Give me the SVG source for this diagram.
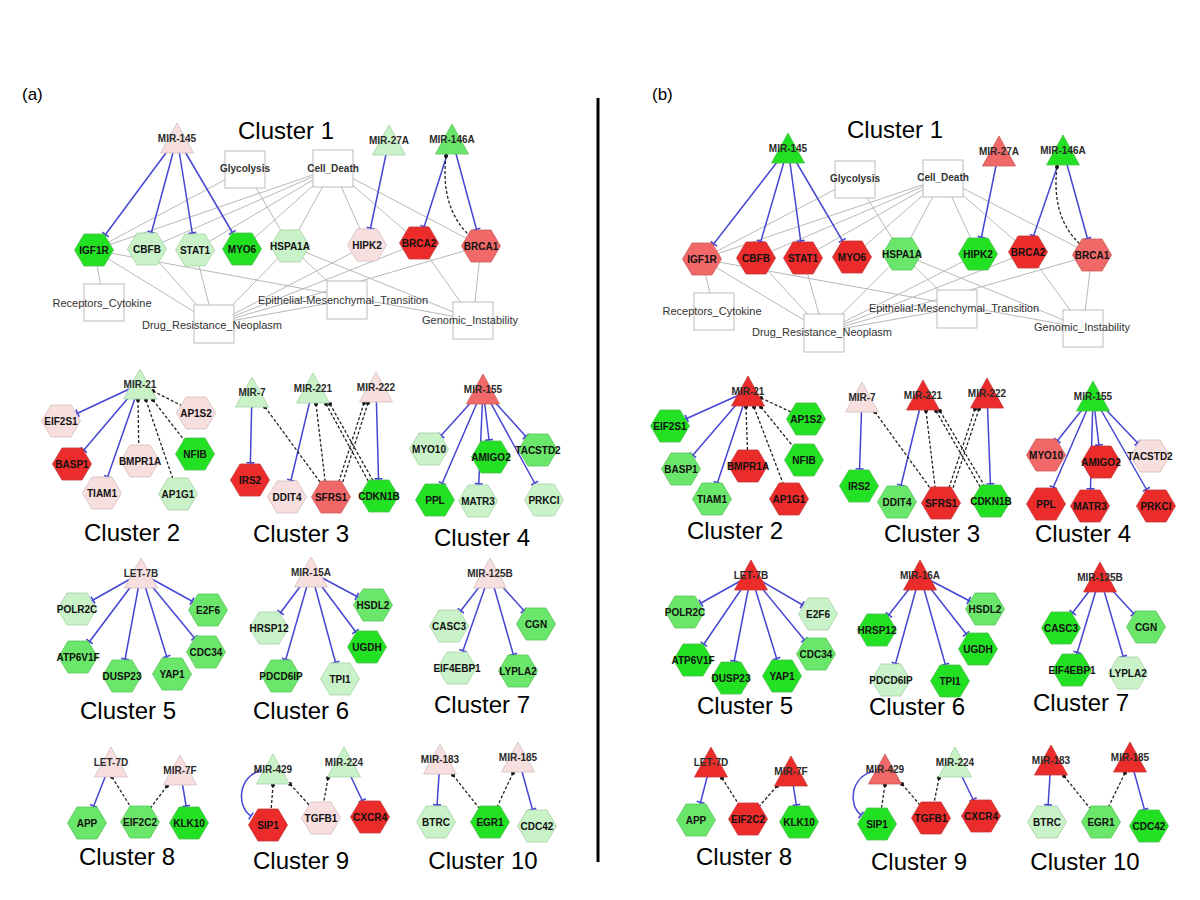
<svg xmlns="http://www.w3.org/2000/svg" xmlns:xlink="http://www.w3.org/1999/xlink" width="1200" height="900" viewBox="0 0 1200 900">
<style>
.g{stroke:#b8b8b8;stroke-width:1;fill:none}
.b{stroke:#4545d4;stroke-width:1.5;fill:none}
.d{stroke:#222;stroke-width:1.3;stroke-dasharray:3 2;fill:none;marker-start:url(#dot)}
.box{fill:#fff;stroke:#bbb;stroke-width:1}
.nl{font-family:"Liberation Sans",Arial,sans-serif;font-weight:bold;font-size:10px;text-anchor:middle;fill:#111}
.tl{font-family:"Liberation Sans",Arial,sans-serif;font-weight:bold;font-size:10px;text-anchor:middle;fill:#2a2a2a}
.bl{font-family:"Liberation Sans",Arial,sans-serif;font-size:11px;text-anchor:middle;fill:#333}
.bb{font-family:"Liberation Sans",Arial,sans-serif;font-weight:bold;font-size:10px;text-anchor:middle;fill:#333}
.ct{font-family:"Liberation Sans",Arial,sans-serif;font-size:24px;text-anchor:middle;fill:#000}
.pl{font-family:"Liberation Sans",Arial,sans-serif;font-size:17px;fill:#000}
.bg{fill:#22e022;stroke:#4cbf4c;stroke-width:0.8}
.mg{fill:#6ae66a;stroke:#5cc45c;stroke-width:0.8}
.lg{fill:#c9f2c9;stroke:#a6d2a6;stroke-width:0.8}
.pk{fill:#f7dfdf;stroke:#d4bcbc;stroke-width:0.8}
.rd{fill:#ec2b2b;stroke:#c53a3a;stroke-width:0.8}
.lr{fill:#f16868;stroke:#cc5a5a;stroke-width:0.8}
</style>
<defs>
<polygon id="hx" points="-19.5,0 -10,-16 10,-16 19.5,0 10,16 -10,16"/>
<polygon id="tr" points="0,-15 16.5,15 -16.5,15"/>
<marker id="t17" viewBox="-25 -6 50 12" markerWidth="50" markerHeight="12" refX="17.2" refY="0" orient="auto" markerUnits="userSpaceOnUse"><path d="M0,-4V4" stroke="#4545d4" stroke-width="1.6"/></marker>
<marker id="t18" viewBox="-25 -6 50 12" markerWidth="50" markerHeight="12" refX="18.3" refY="0" orient="auto" markerUnits="userSpaceOnUse"><path d="M0,-4V4" stroke="#4545d4" stroke-width="1.6"/></marker>
<marker id="t19" viewBox="-25 -6 50 12" markerWidth="50" markerHeight="12" refX="19.3" refY="0" orient="auto" markerUnits="userSpaceOnUse"><path d="M0,-4V4" stroke="#4545d4" stroke-width="1.6"/></marker>
<marker id="t0" viewBox="-25 -6 50 12" markerWidth="50" markerHeight="12" refX="0" refY="0" orient="auto" markerUnits="userSpaceOnUse"><path d="M0,-4V4" stroke="#4545d4" stroke-width="1.6"/></marker>
<marker id="dot" viewBox="-3 -3 6 6" markerWidth="6" markerHeight="6" refX="0" refY="0" markerUnits="userSpaceOnUse"><circle r="2" fill="#111"/></marker>
</defs>
<rect width="1200" height="900" fill="#fff"/>
<text x="22" y="100" class="pl">(a)</text>
<text x="652" y="100" class="pl">(b)</text>
<line x1="598" y1="98" x2="598" y2="862" stroke="#000" stroke-width="3"/>
<g id="titles">
<text x="286" y="139" class="ct">Cluster 1</text>
<text x="132" y="541" class="ct">Cluster 2</text>
<text x="301" y="542" class="ct">Cluster 3</text>
<text x="482" y="546" class="ct">Cluster 4</text>
<text x="128" y="719" class="ct">Cluster 5</text>
<text x="301" y="719" class="ct">Cluster 6</text>
<text x="482" y="713" class="ct">Cluster 7</text>
<text x="127" y="865" class="ct">Cluster 8</text>
<text x="301" y="869" class="ct">Cluster 9</text>
<text x="483" y="869" class="ct">Cluster 10</text>
<text x="895" y="138" class="ct">Cluster 1</text>
<text x="735" y="539" class="ct">Cluster 2</text>
<text x="932" y="542" class="ct">Cluster 3</text>
<text x="1083" y="542" class="ct">Cluster 4</text>
<text x="745" y="714" class="ct">Cluster 5</text>
<text x="917" y="715" class="ct">Cluster 6</text>
<text x="1081" y="711" class="ct">Cluster 7</text>
<text x="744" y="865" class="ct">Cluster 8</text>
<text x="919" y="870" class="ct">Cluster 9</text>
<text x="1085" y="870" class="ct">Cluster 10</text>
</g>
<g id="connectors">
<g class="g">
<line x1="245" y1="169" x2="94" y2="250"/><line x1="245" y1="169" x2="290" y2="246"/>
<line x1="333" y1="168" x2="94" y2="250"/><line x1="333" y1="168" x2="147" y2="249"/><line x1="333" y1="168" x2="195" y2="250"/><line x1="333" y1="168" x2="242" y2="249"/><line x1="333" y1="168" x2="290" y2="246"/><line x1="333" y1="168" x2="367" y2="245"/><line x1="333" y1="168" x2="419" y2="243"/><line x1="333" y1="168" x2="481" y2="246"/>
<line x1="94" y1="250" x2="104" y2="302"/><line x1="94" y1="250" x2="214" y2="324"/><line x1="94" y1="250" x2="473" y2="320"/>
<line x1="147" y1="249" x2="214" y2="324"/><line x1="195" y1="250" x2="214" y2="324"/><line x1="290" y1="246" x2="214" y2="324"/><line x1="367" y1="245" x2="214" y2="324"/><line x1="419" y1="243" x2="214" y2="324"/><line x1="481" y1="246" x2="214" y2="324"/>
<line x1="290" y1="246" x2="347" y2="300"/><line x1="290" y1="246" x2="473" y2="320"/><line x1="419" y1="243" x2="473" y2="320"/><line x1="481" y1="246" x2="473" y2="320"/><line x1="214" y1="324" x2="347" y2="300"/>
<line x1="855" y1="179" x2="702" y2="259"/><line x1="855" y1="179" x2="902" y2="254"/>
<line x1="943" y1="178" x2="702" y2="259"/><line x1="943" y1="178" x2="756" y2="258"/><line x1="943" y1="178" x2="803" y2="258"/><line x1="943" y1="178" x2="852" y2="257"/><line x1="943" y1="178" x2="902" y2="254"/><line x1="943" y1="178" x2="978" y2="254"/><line x1="943" y1="178" x2="1028" y2="252"/><line x1="943" y1="178" x2="1092" y2="255"/>
<line x1="702" y1="259" x2="714" y2="311"/><line x1="702" y1="259" x2="824" y2="332"/><line x1="702" y1="259" x2="1083" y2="328"/>
<line x1="756" y1="258" x2="824" y2="332"/><line x1="803" y1="258" x2="824" y2="332"/><line x1="902" y1="254" x2="824" y2="332"/><line x1="978" y1="254" x2="824" y2="332"/><line x1="1028" y1="252" x2="824" y2="332"/><line x1="1092" y1="255" x2="824" y2="332"/>
<line x1="902" y1="254" x2="957" y2="308"/><line x1="902" y1="254" x2="1083" y2="328"/><line x1="1028" y1="252" x2="1083" y2="328"/><line x1="1092" y1="255" x2="1083" y2="328"/><line x1="824" y1="332" x2="957" y2="308"/>
</g>
<g class="b">
<line x1="177" y1="138" x2="94" y2="250" marker-end="url(#t19)"/><line x1="177" y1="138" x2="147" y2="249" marker-end="url(#t17)"/><line x1="177" y1="138" x2="195" y2="250" marker-end="url(#t17)"/><line x1="177" y1="138" x2="242" y2="249" marker-end="url(#t19)"/>
<line x1="389" y1="140" x2="367" y2="245" marker-end="url(#t17)"/>
<line x1="452" y1="139" x2="419" y2="243" marker-end="url(#t17)"/><line x1="452" y1="139" x2="481" y2="246" marker-end="url(#t17)"/>
<line x1="140" y1="384" x2="61" y2="421" marker-end="url(#t18)"/><line x1="140" y1="384" x2="72" y2="464" marker-end="url(#t18)"/><line x1="140" y1="384" x2="102" y2="493" marker-end="url(#t17)"/>
<line x1="252" y1="392" x2="250" y2="480" marker-end="url(#t17)"/>
<line x1="313" y1="388" x2="287" y2="497" marker-end="url(#t17)"/>
<line x1="376" y1="387" x2="379" y2="496" marker-end="url(#t17)"/>
<line x1="483" y1="389" x2="429" y2="449" marker-end="url(#t18)"/><line x1="483" y1="389" x2="435" y2="500" marker-end="url(#t18)"/><line x1="483" y1="389" x2="491" y2="457" marker-end="url(#t17)"/><line x1="483" y1="389" x2="478" y2="501" marker-end="url(#t17)"/><line x1="483" y1="389" x2="538" y2="450" marker-end="url(#t18)"/><line x1="483" y1="389" x2="544" y2="500" marker-end="url(#t19)"/>
<line x1="141" y1="573" x2="77" y2="609" marker-end="url(#t18)"/><line x1="141" y1="573" x2="78" y2="657" marker-end="url(#t19)"/><line x1="141" y1="573" x2="122" y2="676" marker-end="url(#t17)"/><line x1="141" y1="573" x2="172" y2="674" marker-end="url(#t18)"/><line x1="141" y1="573" x2="206" y2="652" marker-end="url(#t18)"/><line x1="141" y1="573" x2="208" y2="610" marker-end="url(#t18)"/>
<line x1="311" y1="572" x2="269" y2="628" marker-end="url(#t19)"/><line x1="311" y1="572" x2="281" y2="676" marker-end="url(#t17)"/><line x1="311" y1="572" x2="340" y2="679" marker-end="url(#t17)"/><line x1="311" y1="572" x2="367" y2="647" marker-end="url(#t19)"/><line x1="311" y1="572" x2="373" y2="605" marker-end="url(#t18)"/>
<line x1="490" y1="573" x2="449" y2="626" marker-end="url(#t19)"/><line x1="490" y1="573" x2="457" y2="668" marker-end="url(#t18)"/><line x1="490" y1="573" x2="518" y2="671" marker-end="url(#t17)"/><line x1="490" y1="573" x2="536" y2="624" marker-end="url(#t18)"/>
<line x1="111" y1="762" x2="87" y2="823" marker-end="url(#t18)"/>
<line x1="180" y1="770" x2="189" y2="823" marker-end="url(#t17)"/>
<path d="M262,770 C238,776 236,806 251,816" marker-end="url(#t0)"/>
<line x1="344" y1="762" x2="370" y2="817" marker-end="url(#t18)"/>
<line x1="440" y1="759" x2="436" y2="822" marker-end="url(#t17)"/>
<line x1="518" y1="757" x2="537" y2="826" marker-end="url(#t17)"/>
<line x1="788" y1="148" x2="702" y2="259" marker-end="url(#t19)"/><line x1="788" y1="148" x2="756" y2="258" marker-end="url(#t17)"/><line x1="788" y1="148" x2="803" y2="258" marker-end="url(#t17)"/><line x1="788" y1="148" x2="852" y2="257" marker-end="url(#t19)"/>
<line x1="999" y1="151" x2="978" y2="254" marker-end="url(#t17)"/>
<line x1="1063" y1="150" x2="1028" y2="252" marker-end="url(#t17)"/><line x1="1063" y1="150" x2="1092" y2="255" marker-end="url(#t17)"/>
<line x1="748" y1="391" x2="670" y2="426" marker-end="url(#t18)"/><line x1="748" y1="391" x2="681" y2="469" marker-end="url(#t18)"/><line x1="748" y1="391" x2="712" y2="499" marker-end="url(#t17)"/>
<line x1="862" y1="397" x2="859" y2="486" marker-end="url(#t17)"/>
<line x1="923" y1="395" x2="897" y2="502" marker-end="url(#t17)"/>
<line x1="987" y1="393" x2="991" y2="501" marker-end="url(#t17)"/>
<line x1="1093" y1="396" x2="1046" y2="455" marker-end="url(#t18)"/><line x1="1093" y1="396" x2="1046" y2="504" marker-end="url(#t18)"/><line x1="1093" y1="396" x2="1101" y2="462" marker-end="url(#t17)"/><line x1="1093" y1="396" x2="1090" y2="506" marker-end="url(#t17)"/><line x1="1093" y1="396" x2="1150" y2="456" marker-end="url(#t18)"/><line x1="1093" y1="396" x2="1156" y2="506" marker-end="url(#t19)"/>
<line x1="751" y1="575" x2="685" y2="612" marker-end="url(#t18)"/><line x1="751" y1="575" x2="693" y2="660" marker-end="url(#t19)"/><line x1="751" y1="575" x2="731" y2="678" marker-end="url(#t17)"/><line x1="751" y1="575" x2="782" y2="676" marker-end="url(#t18)"/><line x1="751" y1="575" x2="816" y2="654" marker-end="url(#t18)"/><line x1="751" y1="575" x2="818" y2="614" marker-end="url(#t18)"/>
<line x1="920" y1="575" x2="877" y2="630" marker-end="url(#t19)"/><line x1="920" y1="575" x2="891" y2="680" marker-end="url(#t17)"/><line x1="920" y1="575" x2="950" y2="681" marker-end="url(#t17)"/><line x1="920" y1="575" x2="978" y2="649" marker-end="url(#t19)"/><line x1="920" y1="575" x2="985" y2="609" marker-end="url(#t18)"/>
<line x1="1100" y1="577" x2="1061" y2="628" marker-end="url(#t19)"/><line x1="1100" y1="577" x2="1072" y2="670" marker-end="url(#t18)"/><line x1="1100" y1="577" x2="1128" y2="673" marker-end="url(#t17)"/><line x1="1100" y1="577" x2="1146" y2="627" marker-end="url(#t18)"/>
<line x1="711" y1="762" x2="696" y2="820" marker-end="url(#t18)"/>
<line x1="791" y1="771" x2="799" y2="822" marker-end="url(#t17)"/>
<path d="M874,771 C850,777 848,805 861,815" marker-end="url(#t0)"/>
<line x1="955" y1="762" x2="981" y2="816" marker-end="url(#t18)"/>
<line x1="1051" y1="760" x2="1047" y2="822" marker-end="url(#t17)"/>
<line x1="1130" y1="757" x2="1149" y2="826" marker-end="url(#t17)"/>
</g>
<g class="d">
<path d="M446,156 Q440,208 470,236"/>
<line x1="138" y1="400" x2="139" y2="461"/><line x1="146" y1="400" x2="178" y2="494"/><line x1="153" y1="400" x2="195" y2="454"/><line x1="153" y1="391" x2="196" y2="413"/>
<line x1="265" y1="407" x2="331" y2="497"/>
<line x1="316" y1="404" x2="327" y2="497"/><line x1="326" y1="404" x2="377" y2="497"/><line x1="330" y1="404" x2="381" y2="495"/>
<line x1="364" y1="403" x2="334" y2="497"/><line x1="368" y1="403" x2="338" y2="497"/>
<line x1="112" y1="777" x2="140" y2="822"/><line x1="167" y1="786" x2="140" y2="822"/>
<line x1="273" y1="785" x2="270" y2="825"/><line x1="290" y1="784" x2="321" y2="818"/><line x1="328" y1="778" x2="321" y2="818"/>
<line x1="453" y1="775" x2="490" y2="822"/><line x1="513" y1="773" x2="490" y2="822"/>
<path d="M1057,167 Q1051,218 1081,245"/>
<line x1="746" y1="407" x2="748" y2="466"/><line x1="754" y1="407" x2="789" y2="499"/><line x1="761" y1="407" x2="804" y2="460"/><line x1="761" y1="398" x2="806" y2="419"/>
<line x1="875" y1="412" x2="941" y2="503"/>
<line x1="926" y1="411" x2="937" y2="503"/><line x1="936" y1="411" x2="989" y2="502"/><line x1="940" y1="411" x2="993" y2="500"/>
<line x1="975" y1="409" x2="944" y2="503"/><line x1="979" y1="409" x2="948" y2="503"/>
<line x1="722" y1="778" x2="748" y2="819"/><line x1="777" y1="786" x2="748" y2="819"/>
<line x1="885" y1="785" x2="879" y2="824"/><line x1="902" y1="784" x2="931" y2="818"/><line x1="939" y1="778" x2="931" y2="818"/>
<line x1="1064" y1="776" x2="1101" y2="822"/><line x1="1125" y1="773" x2="1101" y2="822"/>
</g>
</g>
<g id="a-Glycolysis"><rect x="225" y="151" width="40" height="37" class="box"/><text x="245" y="172" class="bb">Glycolysis</text></g>
<g id="a-Cell_Death"><rect x="313" y="150" width="40" height="37" class="box"/><text x="333" y="172" class="bb">Cell_Death</text></g>
<g id="a-Receptors_Cytokine"><rect x="84" y="284" width="40" height="37" class="box"/><text x="102" y="307" class="bl">Receptors_Cytokine</text></g>
<g id="a-Drug_Resistance_Neoplasm"><rect x="194" y="305" width="40" height="38" class="box"/><text x="212" y="329" class="bl">Drug_Resistance_Neoplasm</text></g>
<g id="a-Epithelial-Mesenchymal_Transition"><rect x="327" y="281" width="40" height="38" class="box"/><text x="343" y="304" class="bl">Epithelial-Mesenchymal_Transition</text></g>
<g id="a-Genomic_Instability"><rect x="453" y="302" width="40" height="37" class="box"/><text x="470" y="324" class="bl">Genomic_Instability</text></g>
<g id="b-Glycolysis"><rect x="835" y="161" width="40" height="37" class="box"/><text x="855" y="182" class="bb">Glycolysis</text></g>
<g id="b-Cell_Death"><rect x="923" y="160" width="40" height="37" class="box"/><text x="943" y="181" class="bb">Cell_Death</text></g>
<g id="b-Receptors_Cytokine"><rect x="694" y="293" width="40" height="37" class="box"/><text x="712" y="315" class="bl">Receptors_Cytokine</text></g>
<g id="b-Drug_Resistance_Neoplasm"><rect x="804" y="314" width="40" height="38" class="box"/><text x="822" y="336" class="bl">Drug_Resistance_Neoplasm</text></g>
<g id="b-Epithelial-Mesenchymal_Transition"><rect x="937" y="290" width="40" height="38" class="box"/><text x="954" y="312" class="bl">Epithelial-Mesenchymal_Transition</text></g>
<g id="b-Genomic_Instability"><rect x="1063" y="310" width="40" height="37" class="box"/><text x="1082" y="331" class="bl">Genomic_Instability</text></g>
<g id="a-MIR-145"><use href="#tr" x="177" y="138" class="pk"/><text x="177" y="141.5" class="tl">MIR-145</text></g>
<g id="a-MIR-27A"><use href="#tr" x="389" y="140" class="lg"/><text x="389" y="143.5" class="tl">MIR-27A</text></g>
<g id="a-MIR-146A"><use href="#tr" x="452" y="139" class="mg"/><text x="452" y="142.5" class="tl">MIR-146A</text></g>
<g id="a-MIR-21"><use href="#tr" x="140" y="384" class="lg"/><text x="140" y="387.5" class="tl">MIR-21</text></g>
<g id="a-MIR-7"><use href="#tr" x="252" y="392" class="lg"/><text x="252" y="395.5" class="tl">MIR-7</text></g>
<g id="a-MIR-221"><use href="#tr" x="313" y="388" class="lg"/><text x="313" y="391.5" class="tl">MIR-221</text></g>
<g id="a-MIR-222"><use href="#tr" x="376" y="387" class="pk"/><text x="376" y="390.5" class="tl">MIR-222</text></g>
<g id="a-MIR-155"><use href="#tr" x="483" y="389" class="lr"/><text x="483" y="392.5" class="tl">MIR-155</text></g>
<g id="a-LET-7B"><use href="#tr" x="141" y="573" class="pk"/><text x="141" y="576.5" class="tl">LET-7B</text></g>
<g id="a-MIR-15A"><use href="#tr" x="311" y="572" class="pk"/><text x="311" y="575.5" class="tl">MIR-15A</text></g>
<g id="a-MIR-125B"><use href="#tr" x="490" y="573" class="pk"/><text x="490" y="576.5" class="tl">MIR-125B</text></g>
<g id="a-LET-7D"><use href="#tr" x="111" y="762" class="pk"/><text x="111" y="765.5" class="tl">LET-7D</text></g>
<g id="a-MIR-7F"><use href="#tr" x="180" y="770" class="pk"/><text x="180" y="773.5" class="tl">MIR-7F</text></g>
<g id="a-MIR-429"><use href="#tr" x="273" y="769" class="lg"/><text x="273" y="772.5" class="tl">MIR-429</text></g>
<g id="a-MIR-224"><use href="#tr" x="344" y="762" class="lg"/><text x="344" y="765.5" class="tl">MIR-224</text></g>
<g id="a-MIR-183"><use href="#tr" x="440" y="759" class="pk"/><text x="440" y="762.5" class="tl">MIR-183</text></g>
<g id="a-MIR-185"><use href="#tr" x="518" y="757" class="pk"/><text x="518" y="760.5" class="tl">MIR-185</text></g>
<g id="a-IGF1R"><use href="#hx" x="94" y="250" class="bg"/><text x="94" y="253.5" class="nl">IGF1R</text></g>
<g id="a-CBFB"><use href="#hx" x="147" y="249" class="lg"/><text x="147" y="252.5" class="nl">CBFB</text></g>
<g id="a-STAT1"><use href="#hx" x="195" y="250" class="lg"/><text x="195" y="253.5" class="nl">STAT1</text></g>
<g id="a-MYO6"><use href="#hx" x="242" y="249" class="bg"/><text x="242" y="252.5" class="nl">MYO6</text></g>
<g id="a-HSPA1A"><use href="#hx" x="290" y="246" class="lg"/><text x="290" y="249.5" class="nl">HSPA1A</text></g>
<g id="a-HIPK2"><use href="#hx" x="367" y="245" class="pk"/><text x="367" y="248.5" class="nl">HIPK2</text></g>
<g id="a-BRCA2"><use href="#hx" x="419" y="243" class="rd"/><text x="419" y="246.5" class="nl">BRCA2</text></g>
<g id="a-BRCA1"><use href="#hx" x="481" y="246" class="lr"/><text x="481" y="249.5" class="nl">BRCA1</text></g>
<g id="a-EIF2S1"><use href="#hx" x="61" y="421" class="pk"/><text x="61" y="424.5" class="nl">EIF2S1</text></g>
<g id="a-AP1S2"><use href="#hx" x="196" y="413" class="pk"/><text x="196" y="416.5" class="nl">AP1S2</text></g>
<g id="a-BASP1"><use href="#hx" x="72" y="464" class="rd"/><text x="72" y="467.5" class="nl">BASP1</text></g>
<g id="a-BMPR1A"><use href="#hx" x="140" y="461" class="pk"/><text x="140" y="464.5" class="nl">BMPR1A</text></g>
<g id="a-NFIB"><use href="#hx" x="195" y="454" class="bg"/><text x="195" y="457.5" class="nl">NFIB</text></g>
<g id="a-TIAM1"><use href="#hx" x="102" y="493" class="pk"/><text x="102" y="496.5" class="nl">TIAM1</text></g>
<g id="a-AP1G1"><use href="#hx" x="178" y="494" class="lg"/><text x="178" y="497.5" class="nl">AP1G1</text></g>
<g id="a-IRS2"><use href="#hx" x="250" y="480" class="rd"/><text x="250" y="483.5" class="nl">IRS2</text></g>
<g id="a-DDIT4"><use href="#hx" x="287" y="497" class="pk"/><text x="287" y="500.5" class="nl">DDIT4</text></g>
<g id="a-SFRS1"><use href="#hx" x="331" y="497" class="lr"/><text x="331" y="500.5" class="nl">SFRS1</text></g>
<g id="a-CDKN1B"><use href="#hx" x="379" y="496" class="bg"/><text x="379" y="499.5" class="nl">CDKN1B</text></g>
<g id="a-MYO10"><use href="#hx" x="429" y="449" class="lg"/><text x="429" y="452.5" class="nl">MYO10</text></g>
<g id="a-AMIGO2"><use href="#hx" x="491" y="457" class="bg"/><text x="491" y="460.5" class="nl">AMIGO2</text></g>
<g id="a-TACSTD2"><use href="#hx" x="538" y="450" class="mg"/><text x="538" y="453.5" class="nl">TACSTD2</text></g>
<g id="a-PPL"><use href="#hx" x="435" y="500" class="bg"/><text x="435" y="503.5" class="nl">PPL</text></g>
<g id="a-MATR3"><use href="#hx" x="478" y="501" class="lg"/><text x="478" y="504.5" class="nl">MATR3</text></g>
<g id="a-PRKCI"><use href="#hx" x="544" y="500" class="lg"/><text x="544" y="503.5" class="nl">PRKCI</text></g>
<g id="a-POLR2C"><use href="#hx" x="77" y="609" class="lg"/><text x="77" y="612.5" class="nl">POLR2C</text></g>
<g id="a-E2F6"><use href="#hx" x="208" y="610" class="mg"/><text x="208" y="613.5" class="nl">E2F6</text></g>
<g id="a-ATP6V1F"><use href="#hx" x="78" y="657" class="mg"/><text x="78" y="660.5" class="nl">ATP6V1F</text></g>
<g id="a-DUSP23"><use href="#hx" x="122" y="676" class="mg"/><text x="122" y="679.5" class="nl">DUSP23</text></g>
<g id="a-YAP1"><use href="#hx" x="172" y="674" class="mg"/><text x="172" y="677.5" class="nl">YAP1</text></g>
<g id="a-CDC34"><use href="#hx" x="206" y="652" class="mg"/><text x="206" y="655.5" class="nl">CDC34</text></g>
<g id="a-HRSP12"><use href="#hx" x="269" y="628" class="lg"/><text x="269" y="631.5" class="nl">HRSP12</text></g>
<g id="a-HSDL2"><use href="#hx" x="373" y="605" class="mg"/><text x="373" y="608.5" class="nl">HSDL2</text></g>
<g id="a-UGDH"><use href="#hx" x="367" y="647" class="bg"/><text x="367" y="650.5" class="nl">UGDH</text></g>
<g id="a-PDCD6IP"><use href="#hx" x="281" y="676" class="mg"/><text x="281" y="679.5" class="nl">PDCD6IP</text></g>
<g id="a-TPI1"><use href="#hx" x="340" y="679" class="lg"/><text x="340" y="682.5" class="nl">TPI1</text></g>
<g id="a-CASC3"><use href="#hx" x="449" y="626" class="lg"/><text x="449" y="629.5" class="nl">CASC3</text></g>
<g id="a-CGN"><use href="#hx" x="536" y="624" class="mg"/><text x="536" y="627.5" class="nl">CGN</text></g>
<g id="a-EIF4EBP1"><use href="#hx" x="457" y="668" class="lg"/><text x="457" y="671.5" class="nl">EIF4EBP1</text></g>
<g id="a-LYPLA2"><use href="#hx" x="518" y="671" class="mg"/><text x="518" y="674.5" class="nl">LYPLA2</text></g>
<g id="a-APP"><use href="#hx" x="87" y="823" class="mg"/><text x="87" y="826.5" class="nl">APP</text></g>
<g id="a-EIF2C2"><use href="#hx" x="140" y="822" class="mg"/><text x="140" y="825.5" class="nl">EIF2C2</text></g>
<g id="a-KLK10"><use href="#hx" x="189" y="823" class="bg"/><text x="189" y="826.5" class="nl">KLK10</text></g>
<g id="a-SIP1"><use href="#hx" x="268" y="825" class="rd"/><text x="268" y="828.5" class="nl">SIP1</text></g>
<g id="a-TGFB1"><use href="#hx" x="321" y="818" class="pk"/><text x="321" y="821.5" class="nl">TGFB1</text></g>
<g id="a-CXCR4"><use href="#hx" x="370" y="817" class="rd"/><text x="370" y="820.5" class="nl">CXCR4</text></g>
<g id="a-BTRC"><use href="#hx" x="436" y="822" class="lg"/><text x="436" y="825.5" class="nl">BTRC</text></g>
<g id="a-EGR1"><use href="#hx" x="490" y="822" class="bg"/><text x="490" y="825.5" class="nl">EGR1</text></g>
<g id="a-CDC42"><use href="#hx" x="537" y="826" class="lg"/><text x="537" y="829.5" class="nl">CDC42</text></g>
<g id="b-MIR-145"><use href="#tr" x="788" y="148" class="bg"/><text x="788" y="151.5" class="tl">MIR-145</text></g>
<g id="b-MIR-27A"><use href="#tr" x="999" y="151" class="lr"/><text x="999" y="154.5" class="tl">MIR-27A</text></g>
<g id="b-MIR-146A"><use href="#tr" x="1063" y="150" class="bg"/><text x="1063" y="153.5" class="tl">MIR-146A</text></g>
<g id="b-MIR-21"><use href="#tr" x="748" y="391" class="rd"/><text x="748" y="394.5" class="tl">MIR-21</text></g>
<g id="b-MIR-7"><use href="#tr" x="862" y="397" class="pk"/><text x="862" y="400.5" class="tl">MIR-7</text></g>
<g id="b-MIR-221"><use href="#tr" x="923" y="395" class="rd"/><text x="923" y="398.5" class="tl">MIR-221</text></g>
<g id="b-MIR-222"><use href="#tr" x="987" y="393" class="rd"/><text x="987" y="396.5" class="tl">MIR-222</text></g>
<g id="b-MIR-155"><use href="#tr" x="1093" y="396" class="bg"/><text x="1093" y="399.5" class="tl">MIR-155</text></g>
<g id="b-LET-7B"><use href="#tr" x="751" y="575" class="rd"/><text x="751" y="578.5" class="tl">LET-7B</text></g>
<g id="b-MIR-16A"><use href="#tr" x="920" y="575" class="rd"/><text x="920" y="578.5" class="tl">MIR-16A</text></g>
<g id="b-MIR-125B"><use href="#tr" x="1100" y="577" class="rd"/><text x="1100" y="580.5" class="tl">MIR-125B</text></g>
<g id="b-LET-7D"><use href="#tr" x="711" y="762" class="rd"/><text x="711" y="765.5" class="tl">LET-7D</text></g>
<g id="b-MIR-7F"><use href="#tr" x="791" y="771" class="rd"/><text x="791" y="774.5" class="tl">MIR-7F</text></g>
<g id="b-MIR-429"><use href="#tr" x="885" y="769" class="lr"/><text x="885" y="772.5" class="tl">MIR-429</text></g>
<g id="b-MIR-224"><use href="#tr" x="955" y="762" class="lg"/><text x="955" y="765.5" class="tl">MIR-224</text></g>
<g id="b-MIR-183"><use href="#tr" x="1051" y="760" class="rd"/><text x="1051" y="763.5" class="tl">MIR-183</text></g>
<g id="b-MIR-185"><use href="#tr" x="1130" y="757" class="rd"/><text x="1130" y="760.5" class="tl">MIR-185</text></g>
<g id="b-IGF1R"><use href="#hx" x="702" y="259" class="lr"/><text x="702" y="262.5" class="nl">IGF1R</text></g>
<g id="b-CBFB"><use href="#hx" x="756" y="258" class="rd"/><text x="756" y="261.5" class="nl">CBFB</text></g>
<g id="b-STAT1"><use href="#hx" x="803" y="258" class="rd"/><text x="803" y="261.5" class="nl">STAT1</text></g>
<g id="b-MYO6"><use href="#hx" x="852" y="257" class="rd"/><text x="852" y="260.5" class="nl">MYO6</text></g>
<g id="b-HSPA1A"><use href="#hx" x="902" y="254" class="mg"/><text x="902" y="257.5" class="nl">HSPA1A</text></g>
<g id="b-HIPK2"><use href="#hx" x="978" y="254" class="bg"/><text x="978" y="257.5" class="nl">HIPK2</text></g>
<g id="b-BRCA2"><use href="#hx" x="1028" y="252" class="rd"/><text x="1028" y="255.5" class="nl">BRCA2</text></g>
<g id="b-BRCA1"><use href="#hx" x="1092" y="255" class="lr"/><text x="1092" y="258.5" class="nl">BRCA1</text></g>
<g id="b-EIF2S1"><use href="#hx" x="670" y="426" class="bg"/><text x="670" y="429.5" class="nl">EIF2S1</text></g>
<g id="b-AP1S2"><use href="#hx" x="806" y="419" class="bg"/><text x="806" y="422.5" class="nl">AP1S2</text></g>
<g id="b-BASP1"><use href="#hx" x="681" y="469" class="mg"/><text x="681" y="472.5" class="nl">BASP1</text></g>
<g id="b-BMPR1A"><use href="#hx" x="748" y="466" class="rd"/><text x="748" y="469.5" class="nl">BMPR1A</text></g>
<g id="b-NFIB"><use href="#hx" x="804" y="460" class="bg"/><text x="804" y="463.5" class="nl">NFIB</text></g>
<g id="b-TIAM1"><use href="#hx" x="712" y="499" class="mg"/><text x="712" y="502.5" class="nl">TIAM1</text></g>
<g id="b-AP1G1"><use href="#hx" x="789" y="499" class="rd"/><text x="789" y="502.5" class="nl">AP1G1</text></g>
<g id="b-IRS2"><use href="#hx" x="859" y="486" class="bg"/><text x="859" y="489.5" class="nl">IRS2</text></g>
<g id="b-DDIT4"><use href="#hx" x="897" y="502" class="mg"/><text x="897" y="505.5" class="nl">DDIT4</text></g>
<g id="b-SFRS1"><use href="#hx" x="941" y="503" class="rd"/><text x="941" y="506.5" class="nl">SFRS1</text></g>
<g id="b-CDKN1B"><use href="#hx" x="991" y="501" class="bg"/><text x="991" y="504.5" class="nl">CDKN1B</text></g>
<g id="b-MYO10"><use href="#hx" x="1046" y="455" class="lr"/><text x="1046" y="458.5" class="nl">MYO10</text></g>
<g id="b-AMIGO2"><use href="#hx" x="1101" y="462" class="rd"/><text x="1101" y="465.5" class="nl">AMIGO2</text></g>
<g id="b-TACSTD2"><use href="#hx" x="1150" y="456" class="pk"/><text x="1150" y="459.5" class="nl">TACSTD2</text></g>
<g id="b-PPL"><use href="#hx" x="1046" y="504" class="rd"/><text x="1046" y="507.5" class="nl">PPL</text></g>
<g id="b-MATR3"><use href="#hx" x="1090" y="506" class="rd"/><text x="1090" y="509.5" class="nl">MATR3</text></g>
<g id="b-PRKCI"><use href="#hx" x="1156" y="506" class="rd"/><text x="1156" y="509.5" class="nl">PRKCI</text></g>
<g id="b-POLR2C"><use href="#hx" x="685" y="612" class="mg"/><text x="685" y="615.5" class="nl">POLR2C</text></g>
<g id="b-E2F6"><use href="#hx" x="818" y="614" class="lg"/><text x="818" y="617.5" class="nl">E2F6</text></g>
<g id="b-ATP6V1F"><use href="#hx" x="693" y="660" class="bg"/><text x="693" y="663.5" class="nl">ATP6V1F</text></g>
<g id="b-DUSP23"><use href="#hx" x="731" y="678" class="bg"/><text x="731" y="681.5" class="nl">DUSP23</text></g>
<g id="b-YAP1"><use href="#hx" x="782" y="676" class="bg"/><text x="782" y="679.5" class="nl">YAP1</text></g>
<g id="b-CDC34"><use href="#hx" x="816" y="654" class="mg"/><text x="816" y="657.5" class="nl">CDC34</text></g>
<g id="b-HRSP12"><use href="#hx" x="877" y="630" class="bg"/><text x="877" y="633.5" class="nl">HRSP12</text></g>
<g id="b-HSDL2"><use href="#hx" x="985" y="609" class="mg"/><text x="985" y="612.5" class="nl">HSDL2</text></g>
<g id="b-UGDH"><use href="#hx" x="978" y="649" class="bg"/><text x="978" y="652.5" class="nl">UGDH</text></g>
<g id="b-PDCD6IP"><use href="#hx" x="891" y="680" class="lg"/><text x="891" y="683.5" class="nl">PDCD6IP</text></g>
<g id="b-TPI1"><use href="#hx" x="950" y="681" class="bg"/><text x="950" y="684.5" class="nl">TPI1</text></g>
<g id="b-CASC3"><use href="#hx" x="1061" y="628" class="bg"/><text x="1061" y="631.5" class="nl">CASC3</text></g>
<g id="b-CGN"><use href="#hx" x="1146" y="627" class="mg"/><text x="1146" y="630.5" class="nl">CGN</text></g>
<g id="b-EIF4EBP1"><use href="#hx" x="1072" y="670" class="bg"/><text x="1072" y="673.5" class="nl">EIF4EBP1</text></g>
<g id="b-LYPLA2"><use href="#hx" x="1128" y="673" class="lg"/><text x="1128" y="676.5" class="nl">LYPLA2</text></g>
<g id="b-APP"><use href="#hx" x="696" y="820" class="mg"/><text x="696" y="823.5" class="nl">APP</text></g>
<g id="b-EIF2C2"><use href="#hx" x="748" y="819" class="rd"/><text x="748" y="822.5" class="nl">EIF2C2</text></g>
<g id="b-KLK10"><use href="#hx" x="799" y="822" class="bg"/><text x="799" y="825.5" class="nl">KLK10</text></g>
<g id="b-SIP1"><use href="#hx" x="877" y="824" class="bg"/><text x="877" y="827.5" class="nl">SIP1</text></g>
<g id="b-TGFB1"><use href="#hx" x="931" y="818" class="rd"/><text x="931" y="821.5" class="nl">TGFB1</text></g>
<g id="b-CXCR4"><use href="#hx" x="981" y="816" class="rd"/><text x="981" y="819.5" class="nl">CXCR4</text></g>
<g id="b-BTRC"><use href="#hx" x="1047" y="822" class="lg"/><text x="1047" y="825.5" class="nl">BTRC</text></g>
<g id="b-EGR1"><use href="#hx" x="1101" y="822" class="mg"/><text x="1101" y="825.5" class="nl">EGR1</text></g>
<g id="b-CDC42"><use href="#hx" x="1149" y="826" class="bg"/><text x="1149" y="829.5" class="nl">CDC42</text></g>
</svg>
